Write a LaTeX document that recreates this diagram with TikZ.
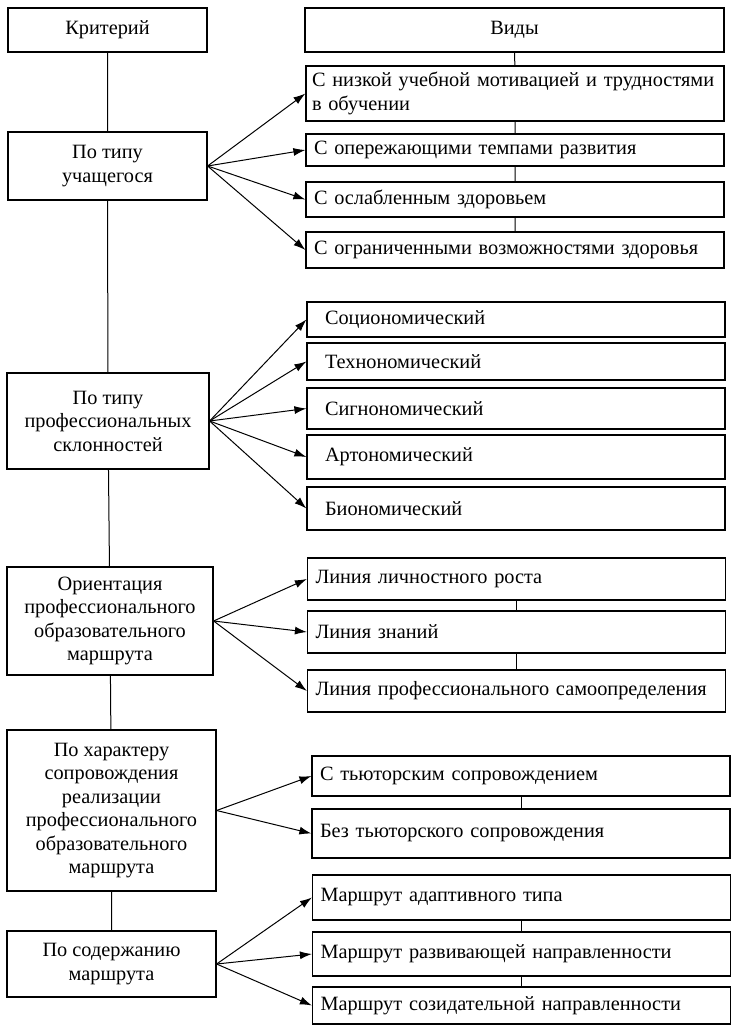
\documentclass[tikz,border=0pt]{standalone}
\usepackage{fontspec}
\setmainfont{Liberation Serif}
\usetikzlibrary{arrows.meta}

\tikzset{
  crit/.style={draw,line width=1.2pt,align=center,inner sep=0pt},
  kind/.style={draw,line width=1.2pt,align=left,inner xsep=8pt,inner ysep=0pt,text width=402pt},
  kindwide/.style={kind,inner xsep=18pt,text width=382pt}
}

\begin{document}
\begin{tikzpicture}[x=1pt,y=-1pt,font=\fontsize{20.3}{23.5}\selectfont,>={Latex[length=12pt,width=8pt]},line width=1pt]
    \useasboundingbox (0,0) rectangle (739,1031);

    \node[crit,minimum width=199pt,minimum height=44pt] (krit) at (107.5,30) {Критерий};
    \node[crit,minimum width=199pt,minimum height=68pt] (uch) at (107.5,166) {По типу\\учащегося};
    \node[crit,minimum width=202pt,minimum height=96pt] (skl) at (108,421) {По типу\\профессиональных\\склонностей};
    \node[crit,minimum width=206pt,minimum height=108pt] (orient) at (110,621) {Ориентация\\профессионального\\образовательного\\маршрута};
    \node[crit,minimum width=209pt,minimum height=161pt] (sopr) at (111.5,810.5) {По характеру\\сопровождения\\реализации\\профессионального\\образовательного\\маршрута};
    \node[crit,minimum width=209pt,minimum height=66pt] (soder) at (111.5,964) {По содержанию\\маршрута};

    \node[crit,minimum width=419pt,minimum height=44pt] (vidy) at (514.5,30) {Виды};

    \node[kind,minimum height=55pt,text width=406pt,inner xsep=6pt] (u1) at (515,93.5) {\mbox{С низкой учебной мотивацией и трудностями}\\в обучении};
    \node[kind,minimum height=32pt] (u2) at (515,150) {С опережающими темпами развития};
    \node[kind,minimum height=35pt] (u3) at (515,199.5) {С ослабленным здоровьем};
    \node[kind,minimum height=36pt] (u4) at (515,250) {С ограниченными возможностями здоровья};

    \node[kindwide,minimum height=35pt] (s1) at (516,319.5) {Социономический};
    \node[kindwide,minimum height=37pt] (s2) at (516,361.5) {Технономический};
    \node[kindwide,minimum height=41pt] (s3) at (516,408.5) {Сигнономический};
    \node[kindwide,minimum height=44pt] (s4) at (516,457) {Артономический};
    \node[kindwide,minimum height=43pt] (s5) at (516,508.5) {Биономический};

    \node[kind,minimum height=42pt] (o1) at (516.5,579) {Линия личностного роста};
    \node[kind,minimum height=42pt] (o2) at (516.5,632) {Линия знаний};
    \node[kind,minimum height=42pt] (o3) at (516.5,691) {Линия профессионального самоопределения};

    \node[kind,minimum height=40pt] (t1) at (521,776) {С тьюторским сопровождением};
    \node[kind,minimum height=49pt] (t2) at (521,833.5) {Без тьюторского сопровождения};

    \node[kind,minimum height=45pt] (m1) at (521.5,897.5) {Маршрут адаптивного типа};
    \node[kind,minimum height=44pt] (m2) at (521.5,954) {Маршрут развивающей направленности};
    \node[kind,minimum height=37pt] (m3) at (521.5,1005.5) {Маршрут созидательной направленности};

    \draw (krit) -- (uch) -- (skl) -- (orient) -- (sopr) -- (soder);
    \draw (vidy) -- (u1) -- (u2) -- (u3) -- (u4);
    \draw (o1) -- (o2) -- (o3);
    \draw (t1) -- (t2);
    \draw (m1) -- (m2) -- (m3);

    \foreach \k in {u1,u2,u3,u4}
      \draw[->] (uch.east) -- (\k.west);
    \foreach \k in {s1,s2,s3,s4,s5}
      \draw[->] (skl.east) -- (\k.west);
    \foreach \k in {o1,o2,o3}
      \draw[->] (orient.east) -- (\k.west);
    \foreach \k in {t1,t2}
      \draw[->] (sopr.east) -- (\k.west);
    \foreach \k in {m1,m2,m3}
      \draw[->] (soder.east) -- (\k.west);
\end{tikzpicture}
\end{document}
